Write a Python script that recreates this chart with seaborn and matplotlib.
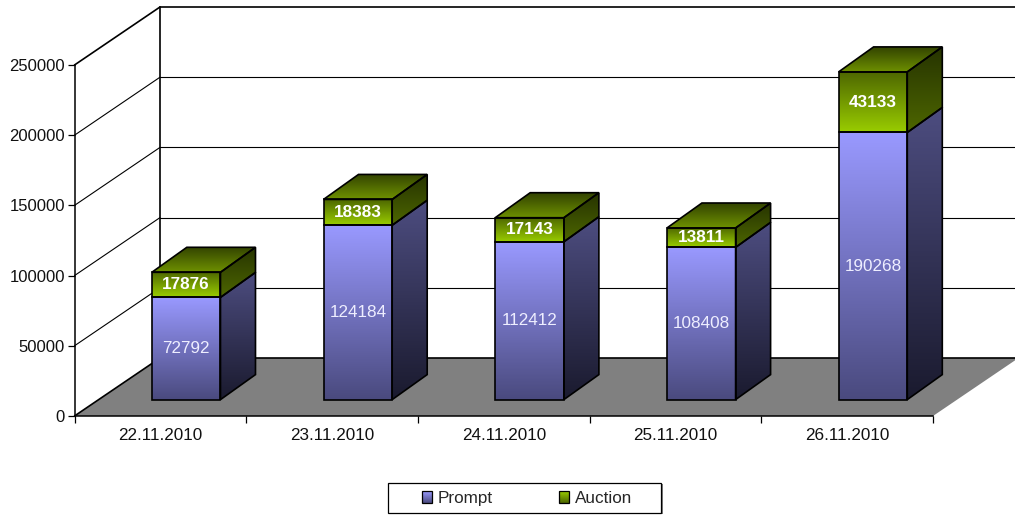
"""Stacked prompt/auction volumes drawn as fake 3D columns, Excel style."""
import matplotlib
matplotlib.use("Agg")
import matplotlib.pyplot as plt
from matplotlib.colors import LinearSegmentedColormap
from matplotlib.patches import Patch, Polygon, Rectangle
from matplotlib.transforms import Affine2D
import numpy as np
import pandas as pd
import seaborn as sns

dates = ["22.11.2010", "23.11.2010", "24.11.2010", "25.11.2010", "26.11.2010"]
prompt = [72792, 124184, 112412, 108408, 190268]
auction = [17876, 18383, 17143, 13811, 43133]
y_ticks = [0, 50000, 100000, 150000, 200000, 250000]

W, H = 1015, 516
WALL_DX, WALL_DY = 85.5, 58      # depth of the chart box
BAR_DX, BAR_DY = 25.8, 16.4      # bars stand inside the box
SIDE_DX, SIDE_DY = 35, 25        # depth of each column
FS = 12.3

sns.set_style("white")
plt.rcParams["font.family"] = ["Liberation Sans", "DejaVu Sans"]
plt.rcParams["font.size"] = FS

fig = plt.figure(figsize=(W / 100, H / 100), dpi=100)

# background layer in pixel coords: walls, floor, gradient faces
bg = fig.add_axes([0, 0, 1, 1], zorder=1)
bg.set_xlim(0, W)
bg.set_ylim(H, 0)
bg.axis("off")

ax = fig.add_axes([74.5 / W, (H - 416) / H, 858.5 / W, 351 / H], zorder=2)
ax.patch.set_visible(False)

df = pd.DataFrame({"date": dates, "prompt": prompt, "auction": auction})
sns.barplot(data=df, x="date", y="prompt", ax=ax, width=0.4, fill=False, color="black",
            edgecolor="black", linewidth=1.2, errorbar=None)
sns.barplot(data=df, x="date", y="auction", bottom=df["prompt"].to_numpy(), ax=ax, width=0.4, fill=False,
            color="black", edgecolor="black", linewidth=1.2, errorbar=None)
ax.set_xlim(-0.5, 4.5)
ax.set_ylim(0, 250000)
ax.set_xlabel("")
ax.set_ylabel("")
ax.set_yticks(y_ticks)

shift = Affine2D().translate(BAR_DX, BAR_DY)
for p in ax.patches:
    p.set_transform(ax.transData + shift)
    p.set_clip_on(False)

# ticks: labels centred, tick marks between the categories
ax.set_xticks(np.arange(-0.5, 5), minor=True)
ax.tick_params(axis="x", which="major", length=0, pad=9, labelsize=FS, colors="#111111", bottom=True)
ax.tick_params(axis="x", which="minor", length=5, width=0.9, color="black", bottom=True)
ax.tick_params(axis="y", length=5, width=0.9, color="black", pad=2, labelsize=12, labelcolor="#111111", left=True)
for side in ("top", "right"):
    ax.spines[side].set_visible(False)
for side in ("left", "bottom"):
    ax.spines[side].set_linewidth(1.1)
    ax.spines[side].set_color("black")


def to_px(x, y):
    dx, dy = ax.transData.transform((x, y))
    return dx, H - dy


def grad_fill(verts, top, bottom, edge=True, z=3):
    poly = Polygon(verts, closed=True, fc="none", ec="black" if edge else "none", lw=1.2, zorder=z + 0.1)
    bg.add_patch(poly)
    xs, ys = zip(*verts)
    cmap = LinearSegmentedColormap.from_list("g", [top, bottom])
    im = bg.imshow(np.linspace(0, 1, 128)[:, None], cmap=cmap, aspect="auto", origin="upper",
                   extent=(min(xs), max(xs), max(ys), min(ys)), zorder=z)
    im.set_clip_path(poly)


# floor and walls
x0, y0 = to_px(-0.5, 0)
x1, _ = to_px(4.5, 0)
_, ytop = to_px(-0.5, y_ticks[-1])
bg.add_patch(Polygon([(x0, y0), (x0 + WALL_DX, y0 - WALL_DY), (x1 + WALL_DX, y0 - WALL_DY), (x1, y0)],
                     closed=True, fc="#808080", ec="none", zorder=1))
bg.plot([x0 + WALL_DX, x0 + WALL_DX], [y0 - WALL_DY, ytop - WALL_DY], color="black", lw=1.2, zorder=2)
for t in y_ticks:
    _, yy = to_px(-0.5, t)
    lw = 1.2 if t in (0, y_ticks[-1]) else 0.8
    bg.plot([x0, x0 + WALL_DX], [yy, yy - WALL_DY], color="black", lw=lw, zorder=2)
    bg.plot([x0 + WALL_DX, x1 + WALL_DX], [yy - WALL_DY, yy - WALL_DY], color="black", lw=lw, zorder=2)

# column faces, read back from the seaborn bars
n = len(dates)
for i, p in enumerate(ax.patches[:2 * n]):
    px0, py0 = to_px(p.get_x(), p.get_y())
    px1, py1 = to_px(p.get_x() + p.get_width(), p.get_y() + p.get_height())
    px0 += BAR_DX
    px1 += BAR_DX
    py0 -= BAR_DY
    py1 -= BAR_DY
    is_prompt = i < n
    front = ("#9999FF", "#4A4A7E") if is_prompt else ("#4D6600", "#99CC00")
    side = ("#4D4D80", "#1A1A2E") if is_prompt else ("#263300", "#4D6600")
    grad_fill([(px0, py1), (px1, py1), (px1, py0), (px0, py0)], *front, edge=False)
    grad_fill([(px1, py1), (px1 + SIDE_DX, py1 - SIDE_DY), (px1 + SIDE_DX, py0 - SIDE_DY), (px1, py0)], *side)
    if not is_prompt:
        grad_fill([(px0, py1), (px0 + SIDE_DX, py1 - SIDE_DY), (px1 + SIDE_DX, py1 - SIDE_DY), (px1, py1)],
                  "#334400", "#6E9000")

    # value labels
    val = prompt[i] if is_prompt else auction[i - n]
    ax.text(p.get_x() + p.get_width() / 2, p.get_y() + p.get_height() / 2, str(val),
            transform=ax.transData + shift, ha="center", va="center", fontsize=FS,
            color="#EEEEFF" if is_prompt else "white", fontweight="normal" if is_prompt else "bold")

handles = [Patch(fc="none", ec="black", lw=0.9, label="Prompt"),
           Patch(fc="none", ec="black", lw=0.9, label="Auction")]
leg = fig.legend(handles=handles, ncol=2, loc="center", bbox_to_anchor=(527 / W, (H - 498.5) / H),
                 frameon=False, fontsize=FS, handlelength=0.62, handleheight=0.62, handletextpad=0.32,
                 columnspacing=3.85, borderpad=0, borderaxespad=0)
leg.set_zorder(5)

# legend box is wider than the entries, so it is drawn by hand
bg.add_patch(Rectangle((390, 484), 273, 30, fc="#808080", ec="none", zorder=4))
bg.add_patch(Rectangle((388.5, 483), 273, 30, fc="white", ec="black", lw=0.9, zorder=4.1))

fig.canvas.draw()
for h, cols in zip(leg.legend_handles, [("#9999FF", "#4A4A7E"), ("#99CC00", "#4D6600")]):
    bb = h.get_window_extent()
    grad_fill([(bb.x0, H - bb.y1), (bb.x1, H - bb.y1), (bb.x1, H - bb.y0), (bb.x0, H - bb.y0)], *cols, edge=False, z=4.5)

bg.set_xlim(0, W)
bg.set_ylim(H, 0)

fig.savefig("out.png", dpi=100)
plt.close(fig)
